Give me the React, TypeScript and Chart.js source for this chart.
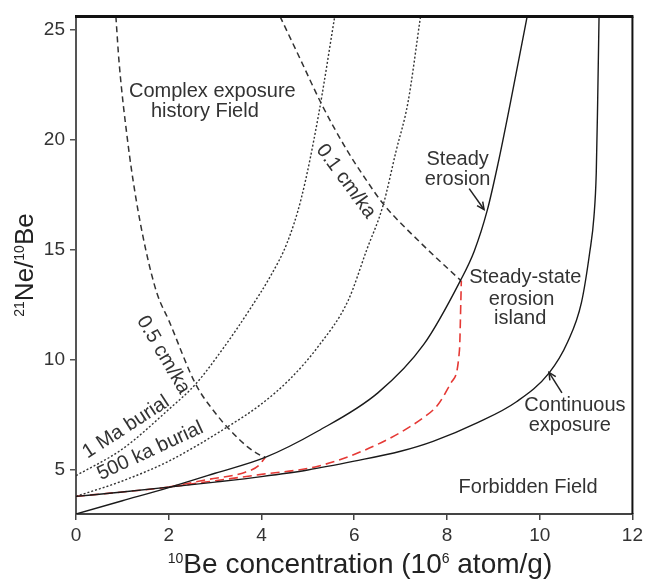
import React, { useEffect, useRef } from "react";
import { Chart, registerables } from "chart.js";

Chart.register(...registerables);

// ---- axis ticks ----
const xTickValues = [0, 2, 4, 6, 8, 10, 12];
const yTickValues = [5, 10, 15, 20, 25];

// ---- curves (10Be in 10^6 atom/g, 21Ne/10Be ratio) ----
const continuousX = [0, 1, 2, 3, 4, 5, 6, 7, 7.7, 8.66, 9.5, 10.2, 10.6, 10.9, 11.08, 11.17, 11.22, 11.25, 11.28];
const continuousY = [3.8, 4.0, 4.22, 4.45, 4.7, 5.0, 5.4, 5.85, 6.3, 7.15, 8.1, 9.4, 10.8, 12.6, 14.9, 16.5, 18.5, 21.7, 25.6];

const steadyX = [0, 1, 2, 3, 4.08, 5.22, 6.51, 7.5, 8.29, 8.59, 8.87, 9.1, 9.37, 9.73];
const steadyY = [3.0, 3.6, 4.2, 4.85, 5.57, 6.77, 8.5, 10.7, 13.6, 14.95, 16.8, 18.9, 21.7, 25.6];

const burial1MaX = [0, 1, 2, 2.58, 3.2, 3.75, 4.22, 4.55, 4.86, 5.22, 5.58];
const burial1MaY = [4.74, 5.95, 7.75, 8.9, 10.6, 12.3, 13.9, 15.3, 17.35, 21.0, 25.6];

const burial500kaX = [0, 1, 2, 3.3, 4.0, 4.6, 5.22, 5.87, 6.27, 6.62, 6.9, 7.16, 7.43];
const burial500kaY = [3.8, 4.5, 5.4, 7.0, 8.0, 9.1, 10.6, 12.7, 15.0, 17.0, 19.46, 21.7, 25.6];

const erosion05X = [0.86, 0.93, 1.11, 1.28, 1.51, 1.75, 2.0, 2.58, 3.0, 3.35, 3.7, 3.95, 4.08];
const erosion05Y = [25.6, 23.5, 20.0, 17.5, 14.95, 13.0, 11.8, 8.9, 7.6, 6.75, 6.05, 5.7, 5.57];

const erosion01X = [4.4, 4.85, 5.3, 5.85, 6.25, 6.62, 7.44, 8.3];
const erosion01Y = [25.6, 23.6, 21.6, 19.5, 18.2, 17.1, 15.3, 13.6];

const islandX = [0, 1, 2, 2.79, 4, 5.22, 6.51, 7.44, 7.8, 8.1, 8.27, 8.3, 8.31];
const islandY = [3.8, 4.0, 4.22, 4.45, 4.8, 5.17, 6.17, 7.3, 7.95, 9.0, 10.45, 12.7, 13.6];

const islandBranchX = [2.0, 2.8, 3.65, 3.94, 4.08];
const islandBranchY = [4.22, 4.55, 4.9, 5.2, 5.57];

// ---- text annotations (data coordinates) ----
const annotationTexts = [
  { text: "Complex exposure", x: 2.94, y: 22.19, angle: 0 },
  { text: "history Field", x: 2.78, y: 21.29, angle: 0 },
  { text: "0.1 cm/ka", x: 5.82, y: 18.11, angle: 53.6 },
  { text: "0.5 cm/ka", x: 1.88, y: 10.23, angle: 59.6 },
  { text: "1 Ma burial", x: 1.08, y: 6.94, angle: -33 },
  { text: "500 ka burial", x: 1.6, y: 5.86, angle: -25 },
  { text: "Steady", x: 8.23, y: 19.1, angle: 0 },
  { text: "erosion", x: 8.23, y: 18.2, angle: 0 },
  { text: "Steady-state", x: 9.69, y: 13.74, angle: 0 },
  { text: "erosion", x: 9.61, y: 12.75, angle: 0 },
  { text: "island", x: 9.58, y: 11.89, angle: 0 },
  { text: "Continuous", x: 10.76, y: 7.93, angle: 0 },
  { text: "exposure", x: 10.65, y: 7.0, angle: 0 },
  { text: "Forbidden Field", x: 9.75, y: 4.22, angle: 0 },
];

const arrowFromX = [8.48, 10.48];
const arrowFromY = [17.78, 8.5];
const arrowToX = [8.8, 10.2];
const arrowToY = [16.83, 9.43];

const FONT = '"Liberation Sans", Arial, sans-serif';

function pts(xs: number[], ys: number[]) {
  return xs.map((x, i) => ({ x, y: ys[i] }));
}

type Seg = { t: string; sup?: boolean };

function drawRich(ctx: CanvasRenderingContext2D, segs: Seg[], cx: number, cy: number, size: number, supSize: number, rot: number) {
  ctx.save();
  ctx.translate(cx, cy);
  ctx.rotate(rot);
  ctx.textBaseline = "alphabetic";
  ctx.textAlign = "left";
  const widths = segs.map((s) => {
    ctx.font = `${s.sup ? supSize : size}px ${FONT}`;
    return ctx.measureText(s.t).width;
  });
  const total = widths.reduce((a, b) => a + b, 0);
  let xx = -total / 2;
  const off = -(0.716 * size - 0.716 * supSize);
  segs.forEach((s, i) => {
    ctx.font = `${s.sup ? supSize : size}px ${FONT}`;
    ctx.fillText(s.t, xx, s.sup ? off : 0);
    xx += widths[i];
  });
  ctx.restore();
}

const overlayPlugin = {
  id: "overlay",
  afterDraw(chart: any) {
    const { ctx, chartArea: a, scales } = chart;
    const xs = scales.x;
    const ys = scales.y;
    ctx.save();
    // frame top & right
    ctx.strokeStyle = "#111";
    ctx.lineWidth = 3;
    ctx.beginPath();
    ctx.moveTo(a.left - 1, a.top);
    ctx.lineTo(a.right + 1, a.top);
    ctx.stroke();
    ctx.lineWidth = 2;
    ctx.beginPath();
    ctx.moveTo(a.right, a.top);
    ctx.lineTo(a.right, a.bottom);
    ctx.stroke();

    // annotation texts
    ctx.fillStyle = "#333";
    ctx.font = `20px ${FONT}`;
    ctx.textAlign = "center";
    ctx.textBaseline = "middle";
    annotationTexts.forEach((t) => {
      const px = xs.getPixelForValue(t.x);
      const py = ys.getPixelForValue(t.y);
      ctx.save();
      ctx.translate(px, py);
      ctx.rotate((t.angle * Math.PI) / 180);
      ctx.fillText(t.text, 0, 0);
      ctx.restore();
    });

    // arrows
    ctx.strokeStyle = "#222";
    ctx.lineWidth = 1.5;
    arrowFromX.forEach((fx, i) => {
      const x1 = xs.getPixelForValue(fx);
      const y1 = ys.getPixelForValue(arrowFromY[i]);
      const x2 = xs.getPixelForValue(arrowToX[i]);
      const y2 = ys.getPixelForValue(arrowToY[i]);
      ctx.beginPath();
      ctx.moveTo(x1, y1);
      ctx.lineTo(x2, y2);
      ctx.stroke();
      const ang = Math.atan2(y2 - y1, x2 - x1);
      const L = 8;
      ctx.beginPath();
      ctx.moveTo(x2 - L * Math.cos(ang - 0.45), y2 - L * Math.sin(ang - 0.45));
      ctx.lineTo(x2, y2);
      ctx.lineTo(x2 - L * Math.cos(ang + 0.45), y2 - L * Math.sin(ang + 0.45));
      ctx.stroke();
    });

    // axis titles
    ctx.fillStyle = "#222";
    drawRich(
      ctx,
      [{ t: "10", sup: true }, { t: "Be concentration (10" }, { t: "6", sup: true }, { t: " atom/g)" }],
      360,
      573,
      28,
      14,
      0
    );
    drawRich(
      ctx,
      [{ t: "21", sup: true }, { t: "Ne/" }, { t: "10", sup: true }, { t: "Be" }],
      33,
      265,
      26,
      14,
      -Math.PI / 2
    );
    ctx.restore();
  },
};

export default function App() {
  const ref = useRef<HTMLCanvasElement | null>(null);
  useEffect(() => {
    if (!ref.current) return;
    const solid = { borderColor: "#1a1a1a", borderWidth: 1.4 };
    const dotted = { borderColor: "#333", borderWidth: 1.4, borderDash: [2, 2] };
    const dashed = { borderColor: "#333", borderWidth: 1.5, borderDash: [6, 4] };
    const red = { borderColor: "#e53935", borderWidth: 1.6, borderDash: [9, 5] };
    const common = { showLine: true, pointRadius: 0, cubicInterpolationMode: "monotone", fill: false };
    const chart = new Chart(ref.current, {
      type: "scatter",
      data: {
        datasets: [
          { label: "Continuous exposure", data: pts(continuousX, continuousY), ...common, ...solid },
          { label: "Steady erosion", data: pts(steadyX, steadyY), ...common, ...solid },
          { label: "1 Ma burial", data: pts(burial1MaX, burial1MaY), ...common, ...dotted },
          { label: "500 ka burial", data: pts(burial500kaX, burial500kaY), ...common, ...dotted },
          { label: "0.5 cm/ka", data: pts(erosion05X, erosion05Y), ...common, ...dashed },
          { label: "0.1 cm/ka", data: pts(erosion01X, erosion01Y), ...common, ...dashed },
          { label: "Island", data: pts(islandX, islandY), ...common, ...red },
          { label: "Island branch", data: pts(islandBranchX, islandBranchY), ...common, ...red },
        ] as any,
      },
      options: {
        responsive: false,
        animation: false,
        layout: { padding: { top: 13, right: 10, left: 0, bottom: 0 } },
        plugins: { legend: { display: false }, tooltip: { enabled: false } },
        scales: {
          x: {
            type: "linear",
            min: 0,
            max: 12,
            afterFit: (s: any) => {
              s.height = 66;
            },
            afterBuildTicks: (s: any) => {
              s.ticks = xTickValues.map((v) => ({ value: v }));
            },
            grid: { display: true, drawOnChartArea: false, drawTicks: true, tickLength: 6, color: "#444", lineWidth: 1.5 },
            border: { display: true, color: "#444", width: 2 },
            ticks: { font: { size: 19, family: FONT }, color: "#333", padding: 4, maxRotation: 0 },
          },
          y: {
            type: "linear",
            min: 3,
            max: 25.6,
            afterFit: (s: any) => {
              s.width = 76;
            },
            afterBuildTicks: (s: any) => {
              s.ticks = yTickValues.map((v) => ({ value: v }));
            },
            grid: { display: true, drawOnChartArea: false, drawTicks: true, tickLength: 6, color: "#555", lineWidth: 1.5 },
            border: { display: true, color: "#555", width: 2 },
            ticks: { font: { size: 19, family: FONT }, color: "#333", padding: 5 },
          },
        },
      } as any,
      plugins: [overlayPlugin],
    });
    return () => chart.destroy();
  }, []);
  return (
    <div style={{ position: "absolute", left: 0, top: 0, width: 647, height: 580, background: "#fff" }}>
      <canvas ref={ref} width={647} height={580} style={{ display: "block" }} />
    </div>
  );
}
